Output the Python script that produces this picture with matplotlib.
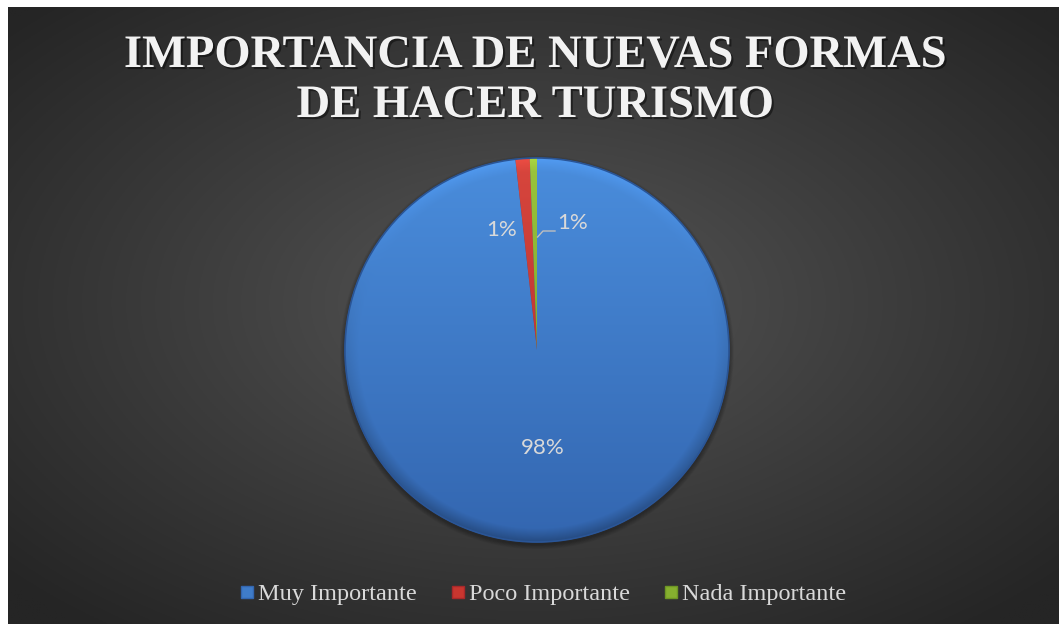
import numpy as np
import matplotlib.pyplot as plt
import matplotlib.patheffects as pe
from matplotlib.colors import to_rgb
from matplotlib.lines import Line2D
from matplotlib.patches import Circle

categories = ['Muy Importante', 'Poco Importante', 'Nada Importante']
values = [98.2, 1.2, 0.6]
colors = ['#3f7cc9', '#c8362f', '#86b02f']
tops = ['#4a8ddc', '#d8463d', '#9ac43c']
bottoms = ['#3366b0', '#a8282a', '#6e9624']
title_lines = ['IMPORTANCIA DE NUEVAS FORMAS', 'DE HACER TURISMO']

W, H = 1059, 624
fig = plt.figure(figsize=(W / 100, H / 100), dpi=100, facecolor='white')

# background with radial gradient
bg = fig.add_axes([8 / W, 0, (W - 8) / W, (H - 7) / H])
bg.set_axis_off()
yy, xx = np.mgrid[0:1:300j, 0:1:500j]
d = np.sqrt(((xx - 0.5) / 0.5) ** 2 + ((yy - 0.48) / 0.5) ** 2)
t = np.clip(d / 1.35, 0, 1) ** 0.9
g = 0x58 / 255 * (1 - t) + 0x25 / 255 * t
bg.imshow(np.dstack([g, g, g]), extent=[0, 1, 0, 1], aspect='auto', origin='upper')
bg.set_xlim(0, 1)
bg.set_ylim(0, 1)

# pie
cx, cy, half = 537, 350, 200
ax = fig.add_axes([(cx - half) / W, (H - cy - half) / H, 2 * half / W, 2 * half / H])
R = 192 / half


def pct_label(p):
    return f"{int(p + 0.5 + 1e-6)}%"


# soft shadow
for k in range(6):
    ax.add_patch(Circle((0.0, -0.012), R + 0.004 * (6 - k), color='black', alpha=0.05, lw=0, zorder=0))

wedges, texts, autotexts = ax.pie(values, colors=colors, startangle=90, counterclock=False,
                                  radius=R, autopct=pct_label, pctdistance=0.51,
                                  wedgeprops=dict(linewidth=0.6, edgecolor='#2c5a9a'),
                                  textprops=dict(color='#d9d9d9', fontsize=16, family='Lato'))

ny = np.linspace(1, -1, 400)
nx = np.linspace(-1, 1, 400)
GX, GY = np.meshgrid(nx, ny)
rr = np.sqrt(GX ** 2 + GY ** 2) / R
for w, c_top, c_bot in zip(wedges, tops, bottoms):
    a = np.array(to_rgb(c_top))
    b = np.array(to_rgb(c_bot))
    s = np.clip((1 - GY / R) / 2, 0, 1)[..., None]
    img = a * (1 - s) + b * s
    rim = np.clip((rr - 0.93) / 0.07, 0, 1)[..., None]
    shade = 1 + rim * (0.18 * GY[..., None] / R - 0.08)
    img = np.clip(img * shade, 0, 1)
    im = ax.imshow(img, extent=[-1, 1, -1, 1], origin='upper', zorder=1.5)
    im.set_clip_path(w)
ax.add_patch(Circle((0, 0), R, fill=False, edgecolor='#2a5596', lw=1.2, zorder=2))

for txt in autotexts:
    txt.set_zorder(5)
autotexts[1].set_position((-0.175, 0.60))
autotexts[2].set_ha('left')
autotexts[2].set_position((0.10, 0.635))
ax.plot([0.003, 0.03, 0.09], [0.565, 0.595, 0.595], color='#bfbfbf', lw=1, zorder=4)
ax.set_xlim(-1, 1)
ax.set_ylim(-1, 1)
ax.set_axis_off()

# title, one text per line
shadow = [pe.withSimplePatchShadow(offset=(1.5, -1.5), shadow_rgbFace='black', alpha=0.45)]
for line, base in zip(title_lines, [67, 117]):
    fig.text(535 / W, 1 - base / H, line, ha='center', va='baseline',
             family='Liberation Serif', weight='bold', fontsize=33.5, color='#f2f2f2',
             path_effects=shadow)

handles = [Line2D([], [], marker='s', linestyle='none', markersize=8, markerfacecolor=c,
                  markeredgecolor=b) for c, b in zip(colors, bottoms)]
fig.legend(handles, categories, loc='center', bbox_to_anchor=(543 / W, 1 - 594 / H), ncol=3,
           frameon=False, handlelength=0.6, handletextpad=0.15, columnspacing=1.4,
           prop=dict(family='Liberation Serif', size=17.5), labelcolor='#d9d9d9')

fig.savefig('out.png', dpi=100, facecolor='white')
